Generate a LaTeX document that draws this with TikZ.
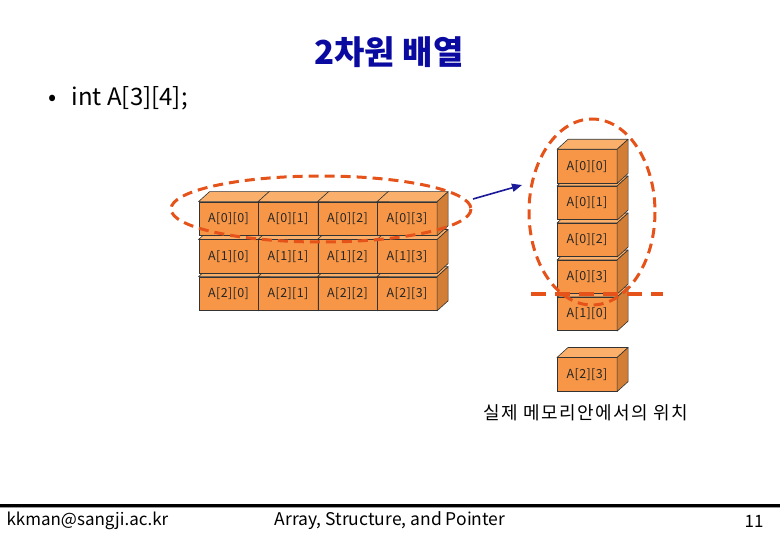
\documentclass[tikz,border=0pt]{standalone}
\usepackage{fontspec}
\setmainfont{Noto Sans CJK KR}
\newfontfamily\kr{Noto Sans CJK KR}
\newfontfamily\krwide[LetterSpace=8]{Noto Sans CJK KR}
\newfontfamily\krsemi[LetterSpace=3]{Noto Sans CJK KR}
\usetikzlibrary{arrows.meta}
\definecolor{cfront}{HTML}{F79646}
\definecolor{ctop}{HTML}{FAB06A}
\definecolor{cside}{HTML}{D27E36}
\definecolor{dashred}{HTML}{E5531A}
\definecolor{titleblue}{HTML}{0A0AA0}
\definecolor{arrowblue}{HTML}{1A1A9A}
\tikzset{
  cubefront/.style={draw=black!80, line width=0.6pt, fill=cfront, rectangle, anchor=north west,
    minimum width=59.5pt, minimum height=33.5pt, inner sep=0pt, font=\krsemi\fontsize{12.5}{12.5}\selectfont, text=black!85},
  cubeface/.style={draw=black!80, line width=0.6pt, line join=round},
  dashring/.style={draw=dashred, line width=3pt, dash pattern=on 10pt off 6pt},
  memarrow/.style={draw=arrowblue, line width=1.6pt, -{Triangle[length=10pt,width=8pt]}},
}
\newcommand\orbox[4]{%
  \node[cubefront] (#1) at (#2,#3) {#4};
  \filldraw[cubeface, fill=ctop] (#1.north west) -- ++(11,-10) -- ([shift={(11,-10)}]#1.north east) -- (#1.north east) -- cycle;
  \filldraw[cubeface, fill=cside] (#1.north east) -- ([shift={(11,-10)}]#1.north east) -- ([shift={(11,-10)}]#1.south east) -- (#1.south east) -- cycle;
}
\begin{document}
\begin{tikzpicture}[x=1pt,y=-1pt]
\useasboundingbox (0,0) rectangle (780,540);
\fill[white] (0,0) rectangle (780,540);

% title
\node[font=\kr\bfseries\fontsize{33}{33}\selectfont, text=titleblue] (title) at (389,52) {2차원 배열};
% bullet
\node[anchor=west, font=\kr\fontsize{24}{24}\selectfont] (bullet) at (45,98) {•\hspace{15pt}int A[3][4];};

% 2D grid: rows drawn bottom first
\orbox{a20}{198.5}{276.7}{A[2][0]}
\orbox{a21}{258}{276.7}{A[2][1]}
\orbox{a22}{317.5}{276.7}{A[2][2]}
\orbox{a23}{377}{276.7}{A[2][3]}
\orbox{a10}{198.5}{239.5}{A[1][0]}
\orbox{a11}{258}{239.5}{A[1][1]}
\orbox{a12}{317.5}{239.5}{A[1][2]}
\orbox{a13}{377}{239.5}{A[1][3]}
\orbox{a00}{198.5}{201.7}{A[0][0]}
\orbox{a01}{258}{201.7}{A[0][1]}
\orbox{a02}{317.5}{201.7}{A[0][2]}
\orbox{a03}{377}{201.7}{A[0][3]}

% memory stack
\orbox{m23}{557}{357.5}{A[2][3]}
\orbox{m10}{557}{297}{A[1][0]}
\orbox{m03}{557}{260}{A[0][3]}
\orbox{m02}{557}{223}{A[0][2]}
\orbox{m01}{557}{186}{A[0][1]}
\orbox{m00}{557}{149.3}{A[0][0]}

% dashed rings
\draw[dashring] (321,209) ellipse [x radius=150, y radius=33];
\draw[dashring] (592,212) ellipse [x radius=63, y radius=93];
\draw[draw=dashred, line width=3.5pt, dash pattern=on 15pt off 9pt] (531,294) -- (663,294);

% arrow
\coordinate (arrfrom) at (473,199);
\coordinate (arrto) at (522,185);
\draw[memarrow] (arrfrom) -- (arrto);

% caption
\node[font=\krwide\fontsize{18}{18}\selectfont] (cap) at (586,413) {실제 메모리안에서의 위치};

% footer
\draw[line width=1pt, black!40] (0,507.5) -- (780,507.5);
\draw[line width=3pt, black] (0,505) -- (780,505);
\node[anchor=west, font=\kr\fontsize{17}{17}\selectfont] (mail) at (3,521) {kkman@sangji.ac.kr};
\node[font=\kr\fontsize{17.5}{17.5}\selectfont] (topic) at (390,521) {Array, Structure, and Pointer};
\node[anchor=east, font=\kr\fontsize{17}{17}\selectfont] (page) at (767,521) {11};
\end{tikzpicture}
\end{document}
